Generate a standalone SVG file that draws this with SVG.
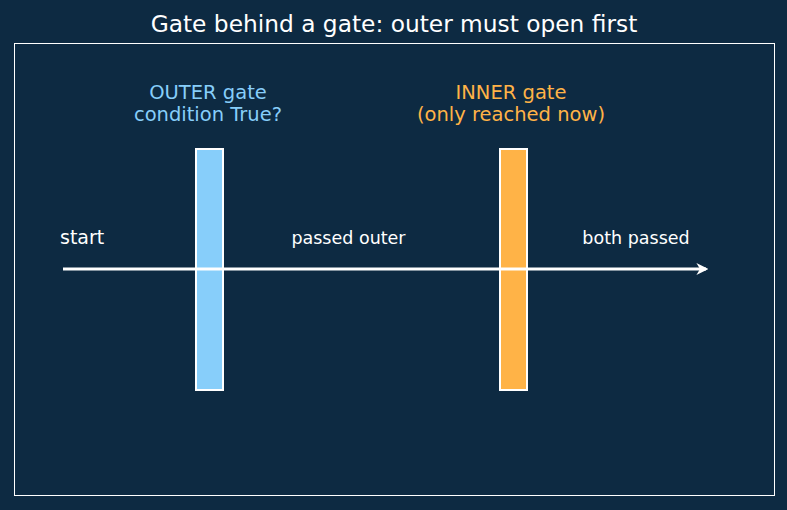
<svg xmlns="http://www.w3.org/2000/svg" width="787" height="510" viewBox="0 0 787 510">
<defs>
<style>
text{font-family:"DejaVu Sans","Liberation Sans",sans-serif;}
.title{font-size:23.3px;fill:#ffffff;text-anchor:middle;}
.lbl{font-size:19.5px;text-anchor:middle;}
.small{font-size:17.5px;fill:#ffffff;text-anchor:middle;}
.bar{stroke:#ffffff;stroke-width:2;}
</style>
<marker id="ah" viewBox="0 0 10 10" refX="8" refY="5" markerWidth="4" markerHeight="4" orient="auto" markerUnits="strokeWidth">
<path d="M0,0 L10,5 L0,10 L3,5 Z" fill="#ffffff"/>
</marker>
</defs>
<rect x="0" y="0" width="787" height="510" fill="#0d2a42"/>
<text class="title" x="394" y="32">Gate behind a gate: outer must open first</text>
<rect x="14.5" y="43.5" width="760" height="452" fill="none" stroke="#ffffff" stroke-width="1"/>
<g id="outer-gate">
<rect class="bar" x="196" y="149" width="27" height="241" fill="#87cefa"/>
<text class="lbl" x="208" y="99" fill="#87cefa">OUTER gate</text>
<text class="lbl" x="208" y="121" fill="#87cefa">condition True?</text>
</g>
<g id="inner-gate">
<rect class="bar" x="500" y="149" width="27" height="241" fill="#ffb347"/>
<text class="lbl" x="511" y="99" fill="#ffb347">INNER gate</text>
<text class="lbl" x="511" y="121" fill="#ffb347">(only reached now)</text>
</g>
<g id="connectors">
<line x1="63" y1="269" x2="706" y2="269" stroke="#ffffff" stroke-width="3" marker-end="url(#ah)"/>
</g>
<g id="labels">
<text x="60" y="243.5" font-size="19" fill="#ffffff">start</text>
<text class="small" x="348.5" y="244">passed outer</text>
<text class="small" x="636" y="244">both passed</text>
</g>
</svg>
